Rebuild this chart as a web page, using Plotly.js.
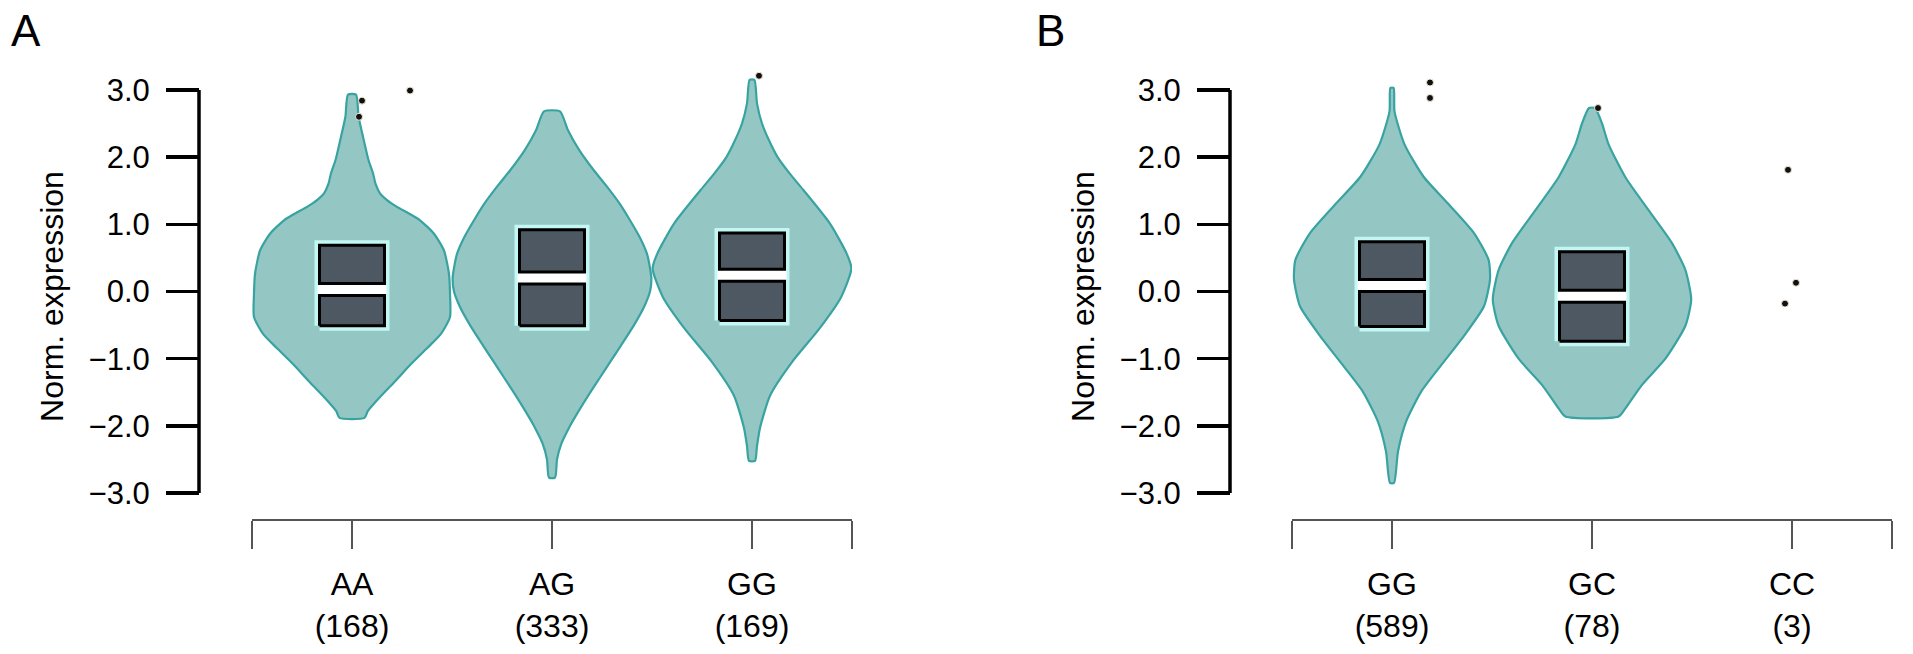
<!DOCTYPE html>
<html>
<head>
<meta charset="utf-8">
<script src="https://cdn.plot.ly/plotly-3.0.1.min.js"></script>
<style>
html, body { margin: 0; padding: 0; background: #ffffff; }
#chart { width: 1913px; height: 654px; }
</style>
</head>
<body>
<div id="chart"></div>
<script>
// ---------------- data ----------------
const categoriesA = ['AA', 'AG', 'GG'];
const countsA = [168, 333, 169];
const categoriesB = ['GG', 'GC', 'CC'];
const countsB = [589, 78, 3];

const yTickVals = [-3, -2, -1, 0, 1, 2, 3];
const yTickText = ['\u22123.0', '\u22122.0', '\u22121.0', '0.0', '1.0', '2.0', '3.0'];

// box statistics (interquartile box + median)
const q1A = [-0.51, -0.51, -0.43];
const medianA = [0.03, 0.20, 0.24];
const q3A = [0.69, 0.92, 0.87];
const q1B = [-0.52, -0.74];
const medianB = [0.09, -0.07];
const q3B = [0.74, 0.59];

// violin outlines: expression level and half-width (fraction of one category slot)
const violinAA_y = [2.93, 2.6, 2.2, 1.96, 1.76, 1.6, 1.46, 1.36, 1.26, 1.16, 1.06, 0.86, 0.61, 0.26, -0.03, -0.38, -0.63, -0.83, -1.08, -1.33, -1.58, -1.78, -1.88];
const violinAA_w = [0.02, 0.033, 0.063, 0.082, 0.105, 0.118, 0.14, 0.175, 0.225, 0.285, 0.34, 0.41, 0.46, 0.485, 0.49, 0.49, 0.445, 0.38, 0.295, 0.217, 0.137, 0.079, 0.0625];
const violinAG_y = [2.68, 2.4, 2.1, 1.8, 1.56, 1.3, 1.06, 0.8, 0.56, 0.35, 0.19, 0.0, -0.23, -0.5, -0.78, -1.03, -1.28, -1.53, -1.78, -2.0, -2.27, -2.5, -2.77];
const violinAG_w = [0.04, 0.08, 0.137, 0.21, 0.275, 0.34, 0.39, 0.44, 0.475, 0.49, 0.497, 0.49, 0.46, 0.41, 0.35, 0.295, 0.24, 0.185, 0.133, 0.09, 0.046, 0.025, 0.015];
const violinGGa_y = [3.15, 2.8, 2.5, 2.25, 2.0, 1.75, 1.51, 1.01, 0.56, 0.34, -0.08, -0.56, -1.05, -1.55, -2.03, -2.3, -2.52];
const violinGGa_w = [0.012, 0.025, 0.05, 0.085, 0.128, 0.19, 0.257, 0.39, 0.474, 0.497, 0.446, 0.335, 0.2, 0.09, 0.04, 0.025, 0.015];
const violinGGb_y = [3.03, 2.68, 2.19, 1.70, 1.31, 0.87, 0.47, 0.18, -0.22, -0.66, -1.10, -1.49, -1.94, -2.38, -2.85];
const violinGGb_w = [0.008, 0.0125, 0.0625, 0.16, 0.28, 0.41, 0.483, 0.49, 0.46, 0.36, 0.245, 0.146, 0.07, 0.03, 0.01];
const violinGC_y = [2.73, 2.5, 2.19, 1.70, 1.21, 0.72, 0.32, -0.12, -0.51, -1.0, -1.39, -1.74, -1.86];
const violinGC_w = [0.015, 0.05, 0.083, 0.167, 0.283, 0.40, 0.467, 0.496, 0.467, 0.367, 0.25, 0.167, 0.133];

// individual points (outliers / small group): category index, jitter, value
const pointsA_cat = [0, 0, 0, 2];
const pointsA_jit = [0.05, 0.035, 0.29, 0.035];
const pointsA_val = [2.84, 2.60, 2.99, 3.21];
const pointsB_cat = [0, 0, 1, 2, 2, 2];
const pointsB_jit = [0.19, 0.19, 0.03, -0.02, 0.02, -0.035];
const pointsB_val = [3.11, 2.88, 2.73, 1.81, 0.13, -0.18];

// ---------------- styling / layout ----------------
const W = 1913, H = 654;
const FONT = 'Liberation Sans, Arial, Helvetica, sans-serif';
const violinFill = '#94c6c4';
const violinLine = '#38a3a1';
const boxFill = '#4e5862';
const haloColor = '#c4f7f3';
const BOXW = 0.325;

// pixel geometry
const yZeroPx = 291.5, yUnitPx = 67.2;
const yRange = [-3.45, 3.3];
const yTopPx = yZeroPx - yRange[1] * yUnitPx;
const yBotPx = yZeroPx - yRange[0] * yUnitPx;
const yDomain = [(H - yBotPx) / H, (H - yTopPx) / H];
const xAxisLinePx = 519.5;
const xDomA = [252 / W, 852 / W];
const xDomB = [1292 / W, 1892 / W];
const yAxisXA = 199 / W;
const yAxisXB = 1230 / W;

function violinTrace(center, ys, ws, xa, ya) {
  const x = [], y = [];
  for (let i = 0; i < ys.length; i++) { x.push(center + ws[i]); y.push(ys[i]); }
  for (let i = ys.length - 1; i >= 0; i--) { x.push(center - ws[i]); y.push(ys[i]); }
  x.push(x[0]); y.push(y[0]);
  return {
    type: 'scatter', mode: 'lines', x: x, y: y, xaxis: xa, yaxis: ya,
    fill: 'toself', fillcolor: violinFill,
    line: { color: violinLine, width: 2.2, shape: 'spline', smoothing: 0.6 },
    hoverinfo: 'skip', showlegend: false
  };
}

// interquartile boxes drawn as filled rectangles (q1..q3), with halo and white median band
function boxTraces(q1, med, q3, xa, ya) {
  const rx = [], ry = [];
  q1.forEach((lo, i) => {
    const hi = q3[i], a = i - BOXW / 2, b = i + BOXW / 2;
    rx.push(a, b, b, a, a, null);
    ry.push(lo, lo, hi, hi, lo, null);
  });
  const halo = {
    type: 'scatter', mode: 'lines', x: rx, y: ry, xaxis: xa, yaxis: ya,
    fill: 'toself', fillcolor: haloColor, line: { color: haloColor, width: 10 },
    hoverinfo: 'skip', showlegend: false
  };
  const main = {
    type: 'scatter', mode: 'lines', x: rx, y: ry, xaxis: xa, yaxis: ya,
    fill: 'toself', fillcolor: boxFill, line: { color: '#000000', width: 3 },
    hoverinfo: 'skip', showlegend: false
  };
  const bx = [], by = [], wx = [], wy = [];
  med.forEach((m, i) => {
    bx.push(i - BOXW / 2, i + BOXW / 2, null); by.push(m, m, null);
    wx.push(i - BOXW / 2 - 0.01, i + BOXW / 2 + 0.01, null); wy.push(m, m, null);
  });
  const medBlack = {
    type: 'scatter', mode: 'lines', x: bx, y: by, xaxis: xa, yaxis: ya,
    line: { color: '#000000', width: 15 }, hoverinfo: 'skip', showlegend: false
  };
  const medWhite = {
    type: 'scatter', mode: 'lines', x: wx, y: wy, xaxis: xa, yaxis: ya,
    line: { color: '#ffffff', width: 9 }, hoverinfo: 'skip', showlegend: false
  };
  return [halo, main, medBlack, medWhite];
}

function pointTrace(cats, jit, vals, xa, ya) {
  return {
    type: 'scatter', mode: 'markers',
    x: cats.map((c, i) => c + jit[i]), y: vals, xaxis: xa, yaxis: ya,
    marker: { color: '#111111', size: 7, line: { color: '#f3ead8', width: 1 } },
    cliponaxis: false, showlegend: false
  };
}

const traces = [
  violinTrace(0, violinAA_y, violinAA_w, 'x', 'y'),
  violinTrace(1, violinAG_y, violinAG_w, 'x', 'y'),
  violinTrace(2, violinGGa_y, violinGGa_w, 'x', 'y'),
  ...boxTraces(q1A, medianA, q3A, 'x', 'y'),
  pointTrace(pointsA_cat, pointsA_jit, pointsA_val, 'x', 'y'),
  violinTrace(0, violinGGb_y, violinGGb_w, 'x2', 'y2'),
  violinTrace(1, violinGC_y, violinGC_w, 'x2', 'y2'),
  ...boxTraces(q1B, medianB, q3B, 'x2', 'y2'),
  pointTrace(pointsB_cat, pointsB_jit, pointsB_val, 'x2', 'y2')
];

function xAxis(dom, cats, counts) {
  return {
    domain: dom, range: [-0.5, 2.5], anchor: 'free', position: (H - xAxisLinePx) / H,
    showline: true, linecolor: '#555555', linewidth: 2,
    ticks: 'outside', ticklen: 28, tickwidth: 2, tickcolor: '#555555',
    tickvals: [-0.5, 0, 1, 2, 2.5],
    ticktext: [''].concat(cats.map((c, i) => c + '<br>(' + counts[i] + ')')).concat(['']),
    tickfont: { family: FONT, size: 32, color: '#000000' },
    ticklabelstandoff: 8,
    showgrid: false, zeroline: false, fixedrange: true
  };
}
function yAxis(pos) {
  return {
    domain: yDomain, range: yRange, anchor: 'free', position: pos,
    showline: false, showgrid: false, zeroline: false,
    ticks: 'outside', ticklen: 33, tickwidth: 3.5, tickcolor: '#000000',
    tickvals: yTickVals, ticktext: yTickText,
    tickfont: { family: FONT, size: 31, color: '#000000' },
    ticklabelstandoff: 10,
    title: { text: 'Norm. expression', font: { family: FONT, size: 32, color: '#000000' }, standoff: 14 },
    fixedrange: true
  };
}

const layout = {
  width: W, height: H,
  margin: { l: 0, r: 0, t: 0, b: 0, pad: 0 },
  paper_bgcolor: '#ffffff', plot_bgcolor: 'rgba(0,0,0,0)',
  showlegend: false,
  xaxis: xAxis(xDomA, categoriesA, countsA),
  yaxis: yAxis(yAxisXA),
  xaxis2: xAxis(xDomB, categoriesB, countsB),
  yaxis2: yAxis(yAxisXB),
  shapes: [
    { type: 'line', xref: 'paper', yref: 'y', x0: yAxisXA, x1: yAxisXA, y0: -3, y1: 3, line: { color: '#000000', width: 3.5 } },
    { type: 'line', xref: 'paper', yref: 'y2', x0: yAxisXB, x1: yAxisXB, y0: -3, y1: 3, line: { color: '#000000', width: 3.5 } }
  ],
  annotations: [
    { text: 'A', xref: 'paper', yref: 'paper', x: 9 / W, y: 1 - 4 / H, xanchor: 'left', yanchor: 'top', showarrow: false, font: { family: FONT, size: 44, color: '#000000' } },
    { text: 'B', xref: 'paper', yref: 'paper', x: 1034 / W, y: 1 - 4 / H, xanchor: 'left', yanchor: 'top', showarrow: false, font: { family: FONT, size: 44, color: '#000000' } }
  ]
};

Plotly.newPlot('chart', traces, layout, { staticPlot: true, displayModeBar: false });
</script>
</body>
</html>
